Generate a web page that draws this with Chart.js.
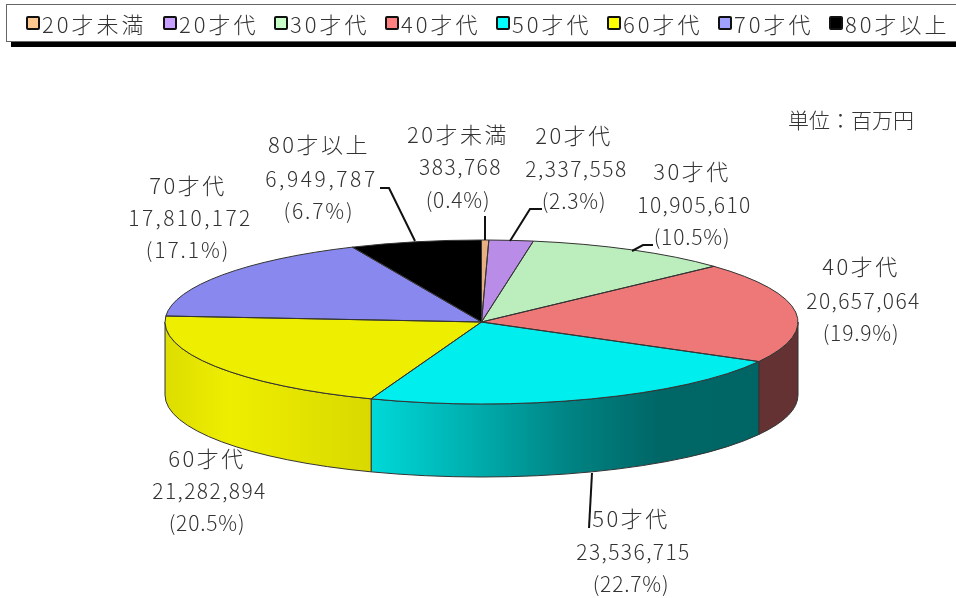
<!DOCTYPE html>
<html lang="ja">
<head>
<meta charset="utf-8">
<title>年代別</title>
<script src="https://cdn.jsdelivr.net/npm/chart.js@4"></script>
<style>
html, body { margin: 0; padding: 0; background: #fff; width: 956px; height: 598px; overflow: hidden; }
#myChart { position: absolute; left: 0; top: 0; }
#legend {
	position: absolute; left: 6px; top: 4px; width: 970px; height: 36px;
	border: 1px solid #666; background: #fff; box-shadow: 5px 5px 0 #000;
	display: flex; align-items: center; padding-left: 19px; box-sizing: content-box;
	font: 300 22px "Noto Sans CJK JP"; color: #333; letter-spacing: 3px;
}
#legend span.item { display: flex; align-items: center; width: 111px; flex: none; white-space: nowrap; }
#legend span.item:first-child { width: 137px; }
#legend span.item:last-child { width: 130px; }
#legend i { display: block; flex: none; width: 10px; height: 10px; border: 2px solid #111; border-radius: 2px; margin-right: 2px; }
</style>
</head>
<body>
<canvas id="myChart" width="956" height="598"></canvas>
<div id="legend"></div>
<script>
const categories = ['20才未満', '20才代', '30才代', '40才代', '50才代', '60才代', '70才代', '80才以上'];
const amounts = [383768, 2337558, 10905610, 20657064, 23536715, 21282894, 17810172, 6949787];
const sliceColors = ['#e8b080', '#b98ce8', '#bcedbc', '#ee7777', '#00eeee', '#eeee00', '#8888ee', '#000000'];
const legendColors = ['#ffc890', '#c8a0ff', '#c8ffc8', '#ff8080', '#00ffff', '#ffff00', '#a0a0ff', '#000000'];
const unitLabel = '単位：百万円';

// centre of each label block: x of the block, y of its three lines
const labelSpots = [[458, 135, 167, 200], [574, 136, 169, 201], [692, 172, 205, 237], [861, 267, 301, 333],
	[631, 519, 552, 584], [207, 459, 491, 523], [188, 186, 218, 250], [319, 145, 179, 211]];
// the reference spreads some number lines wider than others
const numberSpacing = [1.5, 1.5, 1.4, 1.4, 1.4, 1.4, 2.4, 2.6];
const percentSpacing = [0.8, 0.8, 0.8, 0.8, 0.8, 0.8, 1.9, 1.9];
const leaderLines = [
	[[485, 216], [485, 240]],
	[[542, 209], [530, 209], [510, 241]],
	[[653, 245], [643, 245], [632, 251]],
	null,
	[[589, 528], [592, 473]],
	null,
	null,
	[[380, 188], [389, 188], [415, 241]]
];

// squashed pie: top ellipse and wall height
const pie3d = { cx: 481.5, cy: 322, rx: 316.5, ry: 82, depth: 73 };
// wall brightness by screen x
const wallShade = [[165, 0.93], [230, 1], [370, 0.91], [480, 0.72], [570, 0.55], [660, 0.43], [798, 0.42]];

function shade(color, f) {
	const n = parseInt(color.slice(1), 16);
	const r = Math.round((n >> 16) * f), g = Math.round(((n >> 8) & 255) * f), b = Math.round((n & 255) * f);
	return `rgb(${r},${g},${b})`;
}

const pie3dPlugin = {
	id: 'pie3d',
	beforeDatasetsDraw(chart) {
		const ctx = chart.ctx, p = pie3d;
		const arcs = chart.getDatasetMeta(0).data;
		// walls, only the front half of the ellipse shows
		arcs.forEach((arc, i) => {
			const a0 = Math.max(arc.startAngle, 0), a1 = Math.min(arc.endAngle, Math.PI);
			if (a1 <= a0) return;
			const grad = ctx.createLinearGradient(165, 0, 798, 0);
			wallShade.forEach(s => grad.addColorStop((s[0] - 165) / 633, shade(sliceColors[i], s[1])));
			ctx.beginPath();
			ctx.ellipse(p.cx, p.cy + p.depth, p.rx, p.ry, 0, a0, a1);
			ctx.ellipse(p.cx, p.cy, p.rx, p.ry, 0, a1, a0, true);
			ctx.closePath();
			ctx.fillStyle = grad;
			ctx.fill();
			ctx.strokeStyle = '#333';
			ctx.lineWidth = 1;
			ctx.stroke();
		});
		const first = arcs[0], r = first.outerRadius;
		ctx.save();
		ctx.translate(p.cx, p.cy);
		ctx.scale(p.rx / r, p.ry / r);
		ctx.translate(-first.x, -first.y);
	},
	afterDatasetsDraw(chart) {
		const ctx = chart.ctx, p = pie3d;
		ctx.restore();
		// outlines drawn unsquashed so the line stays 1px
		chart.getDatasetMeta(0).data.forEach(arc => {
			ctx.beginPath();
			ctx.moveTo(p.cx, p.cy);
			ctx.ellipse(p.cx, p.cy, p.rx, p.ry, 0, arc.startAngle, arc.endAngle);
			ctx.closePath();
			ctx.strokeStyle = '#333';
			ctx.lineWidth = 1;
			ctx.stroke();
		});
	},
	afterDraw(chart) {
		const ctx = chart.ctx;
		const total = amounts.reduce((a, b) => a + b, 0);
		ctx.save();
		ctx.strokeStyle = '#111';
		ctx.lineWidth = 2;
		leaderLines.forEach(line => {
			if (!line) return;
			ctx.beginPath();
			line.forEach((pt, i) => i ? ctx.lineTo(pt[0], pt[1]) : ctx.moveTo(pt[0], pt[1]));
			ctx.stroke();
		});
		ctx.fillStyle = '#333';
		ctx.textAlign = 'center';
		ctx.textBaseline = 'middle';
		categories.forEach((name, i) => {
			const s = labelSpots[i];
			ctx.font = '300 22px "Noto Sans CJK JP"';
			ctx.letterSpacing = '2.5px';
			ctx.fillText(name, s[0], s[1]);
			ctx.font = '300 21px "Noto Sans CJK JP"';
			ctx.letterSpacing = numberSpacing[i] + 'px';
			ctx.fillText(amounts[i].toLocaleString('en-US'), s[0] + 2.5, s[2]);
			ctx.letterSpacing = percentSpacing[i] + 'px';
			ctx.fillText('(' + (amounts[i] / total * 100).toFixed(1) + '%)', s[0], s[3]);
		});
		ctx.letterSpacing = '0px';
		ctx.font = '300 21px "Noto Sans CJK JP"';
		ctx.textAlign = 'left';
		ctx.fillText(unitLabel, 788, 120);
		ctx.restore();
	}
};

new Chart(document.getElementById('myChart').getContext('2d'), {
	type: 'pie',
	data: {
		labels: categories,
		datasets: [{ data: amounts, backgroundColor: sliceColors, borderWidth: 0, clip: false }]
	},
	options: {
		responsive: false,
		animation: false,
		events: [],
		plugins: { legend: { display: false }, tooltip: { enabled: false } }
	},
	plugins: [pie3dPlugin]
});

const legendBox = document.getElementById('legend');
categories.forEach((name, i) => {
	const item = document.createElement('span');
	item.className = 'item';
	item.innerHTML = `<i style="background:${legendColors[i]}"></i>${name}`;
	legendBox.appendChild(item);
});
</script>
</body>
</html>
